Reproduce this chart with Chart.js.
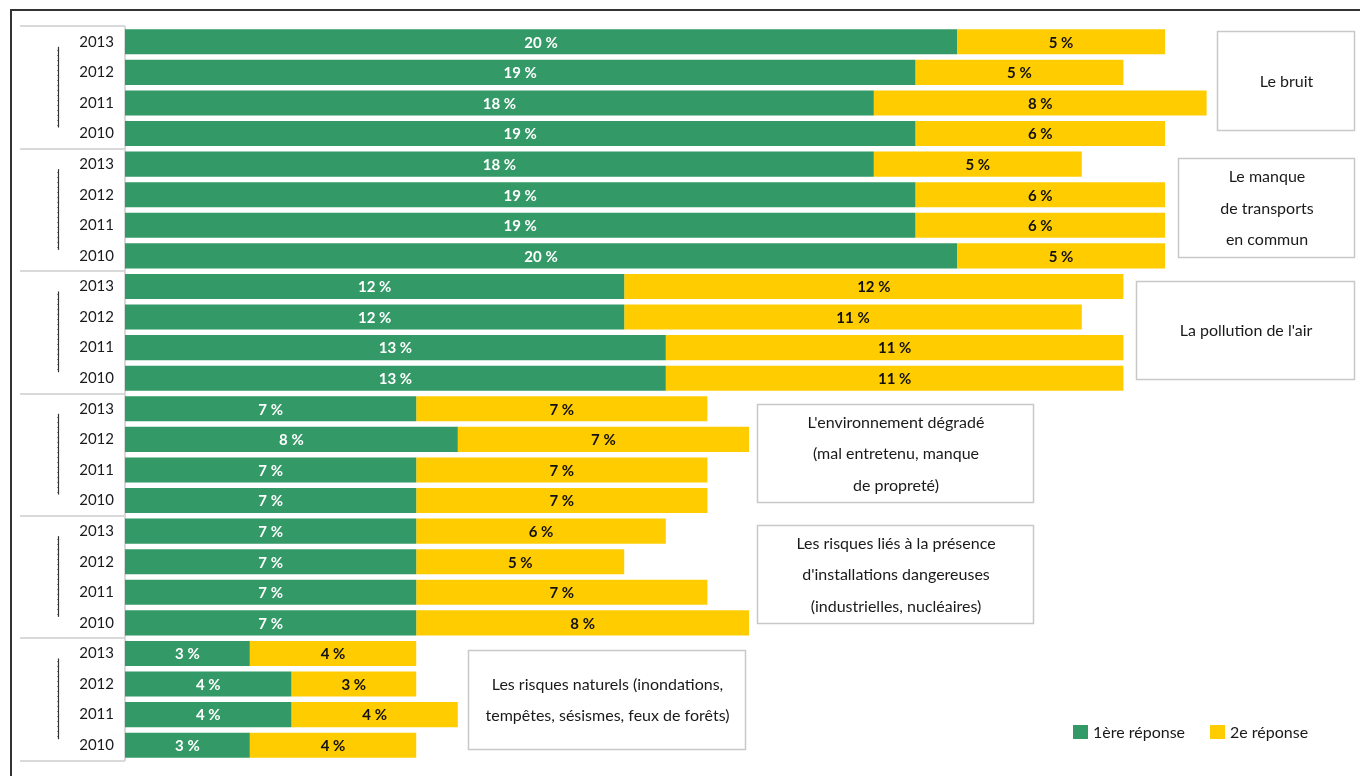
<!DOCTYPE html>
<html>
<head>
<meta charset="utf-8">
<script src="https://cdn.jsdelivr.net/npm/chart.js@4.4.1/dist/chart.umd.min.js"></script>
<style>
  html, body { margin: 0; padding: 0; background: #fff; }
  #wrap { width: 1360px; height: 776px; }
</style>
</head>
<body>
<div id="wrap"><canvas id="myChart" width="1360" height="776"></canvas></div>
<script>
// Data
let years = ['2013', '2012', '2011', '2010'];
let groupNames = [
    ['Le bruit'],
    ['Le manque', 'de transports', 'en commun'],
    ["La pollution de l'air"],
    ["L'environnement dégradé", '(mal entretenu, manque', 'de propreté)'],
    ['Les risques liés à la présence', "d'installations dangereuses", '(industrielles, nucléaires)'],
    ['Les risques naturels (inondations,', 'tempêtes, sésismes, feux de forêts)']
];
let firstAnswer  = [20, 19, 18, 19,  18, 19, 19, 20,  12, 12, 13, 13,  7, 8, 7, 7,  7, 7, 7, 7,  3, 4, 4, 3];
let secondAnswer = [5, 5, 8, 6,  5, 6, 6, 5,  12, 11, 11, 11,  7, 7, 7, 7,  6, 5, 7, 8,  4, 3, 4, 4];
let seriesNames = ['1ère réponse', '2e réponse'];

// Styles
let seriesColors = ['#339966', '#ffcc00'];
let labelColors = ['#ffffff', '#111111'];
let fontFamily = 'Lato, "Open Sans", sans-serif';

// Box positions for the group captions (x, y, w, h in pixels)
let boxRects = [
    [1217, 31, 137, 99],
    [1178, 158, 176, 99],
    [1136, 281, 218, 98],
    [757, 404, 276, 98],
    [757, 525, 276, 98],
    [468, 650, 277, 99]
];

let categories = [];
groupNames.forEach(() => years.forEach(y => categories.push(y)));

let canvas = document.getElementById('myChart').getContext('2d');

// Frame, group separators and small markers in the label column
let framePlugin = {
    id: 'framePlugin',
    beforeDraw(chart) {
        let ctx = chart.ctx;
        ctx.save();
        ctx.fillStyle = '#ffffff';
        ctx.fillRect(0, 0, chart.width, chart.height);
        ctx.strokeStyle = '#333333';
        ctx.lineWidth = 2;
        ctx.beginPath();
        ctx.moveTo(11, chart.height);
        ctx.lineTo(11, 10);
        ctx.lineTo(chart.width, 10);
        ctx.stroke();
        ctx.restore();
    },
    afterDraw(chart) {
        let ctx = chart.ctx;
        let yScale = chart.scales.y;
        let step = yScale.getPixelForValue(1) - yScale.getPixelForValue(0);
        let left = 20, right = chart.chartArea.left;
        ctx.save();
        ctx.strokeStyle = '#d9d9d9';
        ctx.lineWidth = 2;
        for (let g = 0; g <= groupNames.length; g++) {
            let y = yScale.getPixelForValue(g * 4) - step / 2;
            ctx.beginPath();
            ctx.moveTo(left, Math.round(y));
            ctx.lineTo(right, Math.round(y));
            ctx.stroke();
        }
        // small dark markers
        for (let g = 0; g < groupNames.length; g++) {
            let y0 = yScale.getPixelForValue(g * 4) + 5;
            let y1 = yScale.getPixelForValue(g * 4 + 3) - 6;
            ctx.strokeStyle = '#333333';
            ctx.lineWidth = 1.2;
            ctx.beginPath();
            ctx.moveTo(58.5, y0);
            ctx.lineTo(58.5, y1);
            ctx.stroke();
            ctx.strokeStyle = '#888888';
            ctx.lineWidth = 1;
            for (let y = y0 + 3; y < y1; y += 5) {
                ctx.beginPath();
                ctx.moveTo(57, Math.round(y) + 0.5);
                ctx.lineTo(58, Math.round(y) + 0.5);
                ctx.stroke();
            }
        }
        ctx.restore();
    }
};

// Values inside bars
let valueLabelPlugin = {
    id: 'valueLabelPlugin',
    afterDatasetsDraw(chart) {
        let ctx = chart.ctx;
        ctx.save();
        ctx.font = 'bold 15px ' + fontFamily;
        ctx.textAlign = 'center';
        ctx.textBaseline = 'middle';
        chart.data.datasets.forEach((ds, i) => {
            let meta = chart.getDatasetMeta(i);
            ctx.fillStyle = labelColors[i];
            meta.data.forEach((bar, j) => {
                let cx = (bar.x + bar.base) / 2;
                ctx.fillText(ds.data[j] + ' %', cx, bar.y + 1);
            });
        });
        ctx.restore();
    }
};

// Caption boxes and legend
let captionPlugin = {
    id: 'captionPlugin',
    afterDraw(chart) {
        let ctx = chart.ctx;
        ctx.save();
        ctx.font = '16px ' + fontFamily;
        ctx.textAlign = 'center';
        ctx.textBaseline = 'middle';
        groupNames.forEach((lines, i) => {
            let r = boxRects[i];
            ctx.strokeStyle = '#c8c8c8';
            ctx.lineWidth = 1.5;
            ctx.strokeRect(r[0] + 0.5, r[1] + 0.5, r[2], r[3]);
            ctx.fillStyle = '#1a1a1a';
            let lh = 31.5;
            let cy = r[1] + r[3] / 2 - (lines.length - 1) * lh / 2;
            lines.forEach((t, k) => ctx.fillText(t, r[0] + r[2] / 2 + 1, cy + k * lh + 1));
        });
        // legend
        let lx = [1073, 1210];
        ctx.textAlign = 'left';
        chart.data.datasets.forEach((ds, i) => {
            ctx.fillStyle = ds.backgroundColor;
            ctx.fillRect(lx[i], 725, 15, 14);
            ctx.fillStyle = '#1a1a1a';
            ctx.fillText(ds.label, lx[i] + 20, 733);
        });
        ctx.restore();
    }
};

let myChart = new Chart(canvas, {
    type: 'bar',
    data: {
        labels: categories,
        datasets: [
            {
                label: seriesNames[0],
                backgroundColor: seriesColors[0],
                data: firstAnswer
            },
            {
                label: seriesNames[1],
                backgroundColor: seriesColors[1],
                data: secondAnswer
            }
        ]
    },
    options: {
        indexAxis: 'y',
        responsive: false,
        animation: false,
        layout: {
            padding: { left: 20, right: 28.6, top: 26.5, bottom: 15.5 }
        },
        datasets: {
            bar: { categoryPercentage: 1, barPercentage: 0.82 }
        },
        plugins: {
            legend: { display: false },
            tooltip: { enabled: false }
        },
        scales: {
            x: {
                stacked: true,
                display: false,
                min: 0,
                max: 29
            },
            y: {
                stacked: true,
                grid: { display: false, drawTicks: false },
                border: { display: true, color: '#d9d9d9', width: 2 },
                ticks: {
                    padding: 11,
                    color: '#1a1a1a',
                    font: { family: fontFamily, size: 15 }
                },
                afterFit(scale) {
                    scale.width = 105;
                    scale.paddingTop = 0;
                    scale.paddingBottom = 0;
                }
            }
        }
    },
    plugins: [framePlugin, valueLabelPlugin, captionPlugin]
});
</script>
</body>
</html>
